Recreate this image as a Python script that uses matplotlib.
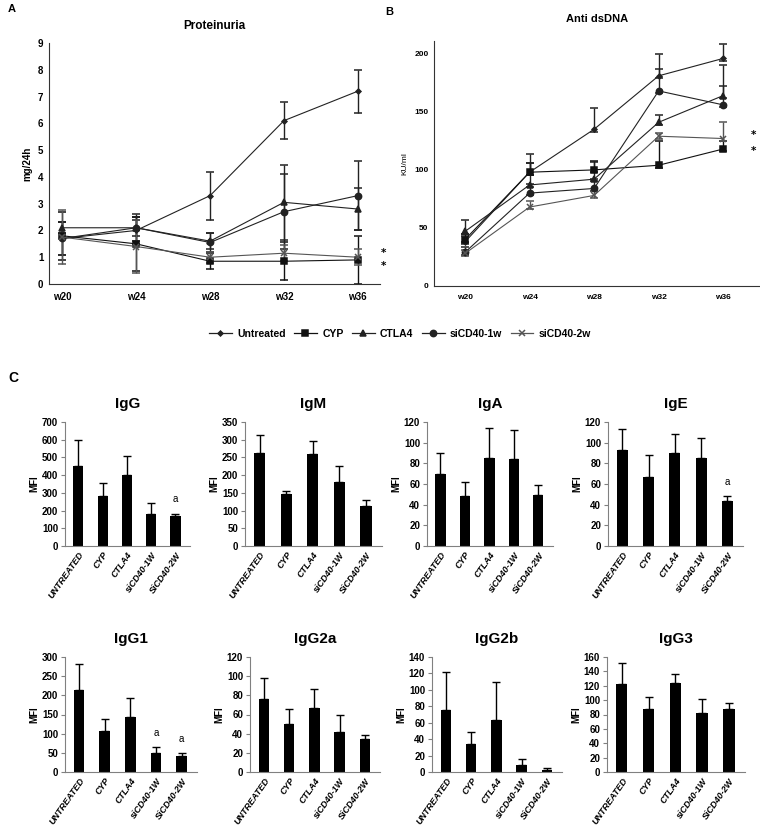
import matplotlib
matplotlib.use("Agg")
import matplotlib.pyplot as plt
import numpy as np

W, H = 760, 835

weeks = ["w20", "w24", "w28", "w32", "w36"]
groups = ["Untreated", "CYP", "CTLA4", "siCD40-1w", "siCD40-2w"]

# panel A - proteinuria (mg/24h)
prot = {
    "Untreated": [1.7, 2.0, 3.3, 6.1, 7.2],
    "CYP": [1.8, 1.5, 0.85, 0.85, 0.9],
    "CTLA4": [2.1, 2.1, 1.6, 3.05, 2.8],
    "siCD40-1w": [1.7, 2.1, 1.55, 2.7, 3.3],
    "siCD40-2w": [1.75, 1.4, 1.0, 1.15, 1.0],
}
prot_err = {
    "Untreated": [0.6, 0.5, 0.9, 0.7, 0.8],
    "CYP": [0.9, 1.0, 0.3, 0.7, 0.9],
    "CTLA4": [0.2, 0.3, 0.3, 1.4, 0.8],
    "siCD40-1w": [0.6, 0.5, 0.35, 1.4, 1.3],
    "siCD40-2w": [1.0, 1.0, 0.2, 0.3, 0.3],
}

# panel B - anti dsDNA (KU/ml), upper error only
dsdna = {
    "Untreated": [38, 98, 135, 181, 196],
    "CYP": [40, 98, 100, 104, 118],
    "CTLA4": [47, 87, 92, 141, 164],
    "siCD40-1w": [29, 80, 84, 168, 156],
    "siCD40-2w": [28, 68, 78, 129, 127],
}
dsdna_err = {
    "Untreated": [5, 16, 18, 19, 12],
    "CYP": [5, 8, 8, 21, 7],
    "CTLA4": [10, 19, 15, 6, 8],
    "siCD40-1w": [5, 8, 8, 19, 34],
    "siCD40-2w": [3, 5, 4, 3, 14],
}

# panel C - MFI bars
bar_cats = ["UNTREATED", "CYP", "CTLA4", "siCD40-1W", "SiCD40-2W"]
ig_names = ["IgG", "IgM", "IgA", "IgE", "IgG1", "IgG2a", "IgG2b", "IgG3"]
ig_vals = {
    "IgG": [450, 280, 400, 183, 170],
    "IgM": [262, 147, 260, 182, 112],
    "IgA": [70, 48, 85, 84, 49],
    "IgE": [93, 67, 90, 85, 44],
    "IgG1": [213, 108, 143, 49, 43],
    "IgG2a": [76, 50, 67, 42, 34],
    "IgG2b": [75, 34, 63, 8, 2],
    "IgG3": [123, 88, 124, 82, 88],
}
ig_err = {
    "IgG": [150, 78, 110, 60, 12],
    "IgM": [50, 8, 35, 45, 18],
    "IgA": [20, 14, 29, 28, 10],
    "IgE": [20, 21, 18, 20, 4],
    "IgG1": [68, 30, 50, 16, 6],
    "IgG2a": [22, 16, 20, 17, 5],
    "IgG2b": [47, 15, 47, 8, 3],
    "IgG3": [28, 16, 13, 20, 8],
}
ig_ymax = {"IgG": 700, "IgM": 350, "IgA": 120, "IgE": 120,
           "IgG1": 300, "IgG2a": 120, "IgG2b": 140, "IgG3": 160}
ig_step = {"IgG": 100, "IgM": 50, "IgA": 20, "IgE": 20,
           "IgG1": 50, "IgG2a": 20, "IgG2b": 20, "IgG3": 20}
ig_marks = {"IgG": [4], "IgE": [4], "IgG1": [3, 4]}

markers = {"Untreated": ("D", 2.5), "CYP": ("s", 4), "CTLA4": ("^", 4),
           "siCD40-1w": ("o", 4.5), "siCD40-2w": ("x", 4)}
colors = {"Untreated": "#222222", "CYP": "#111111", "CTLA4": "#222222",
          "siCD40-1w": "#222222", "siCD40-2w": "#555555"}

ARIAL = ["Liberation Sans", "DejaVu Sans"]
CALIBRI = ["Liberation Sans Narrow", "Liberation Sans", "DejaVu Sans"]

fig = plt.figure(figsize=(W / 100, H / 100), dpi=100)


def px_axes(l, t, r, b):
    return fig.add_axes([l / W, 1 - b / H, (r - l) / W, (b - t) / H])


def style_line_ax(ax):
    for s in ["top", "right"]:
        ax.spines[s].set_visible(False)
    ax.spines["left"].set_color("#333333")
    ax.spines["bottom"].set_color("#333333")
    ax.tick_params(axis="x", length=0, pad=6)
    ax.tick_params(axis="y", length=0, pad=4)
    ax.set_xticks(range(len(weeks)))
    ax.set_xticklabels(weeks, fontsize=7, fontweight="bold", family=ARIAL)
    for t in ax.get_yticklabels():
        t.set_fontsize(7)
        t.set_fontweight("bold")
        t.set_family(ARIAL)


x = np.arange(len(weeks))

# ---- A
axA = px_axes(49, 43, 380, 284)
for g in groups:
    m, ms = markers[g]
    axA.errorbar(x, prot[g], yerr=prot_err[g], color=colors[g], marker=m, ms=ms,
                 lw=0.8, elinewidth=1.0, capsize=3, capthick=1.0, mew=1.1)
axA.set_xlim(-0.18, 4.3)
axA.set_ylim(0, 9)
axA.set_yticks(range(0, 10))
style_line_ax(axA)
axA.set_ylabel("mg/24h", fontsize=7, fontweight="bold", family=ARIAL, labelpad=4)
axA.set_title("Proteinuria", fontsize=8.5, fontweight="bold", family=ARIAL, pad=10)
for yv in [1.15, 0.68]:
    axA.text(4.31, yv, "*", fontsize=7.5, fontweight="bold", ha="left", va="center",
             clip_on=False)
fig.text(8 / W, 1 - 9 / H, "A", fontsize=8, fontweight="bold", family=ARIAL, va="center")

# ---- B
axB = px_axes(434, 41, 760, 286)
for g in groups:
    m, ms = markers[g]
    lo = [min(2, e) for e in dsdna_err[g]]
    axB.errorbar(x, dsdna[g], yerr=[lo, dsdna_err[g]], color=colors[g], marker=m, ms=ms,
                 lw=0.8, elinewidth=1.0, capsize=3, capthick=1.0, mew=1.1)
axB.set_xlim(-0.48, 4.57)
axB.set_ylim(0, 211)
axB.set_yticks([0, 50, 100, 150, 200])
style_line_ax(axB)
for t in axB.get_yticklabels():
    t.set_fontsize(6)
for t in axB.get_xticklabels():
    t.set_fontsize(6)
axB.set_ylabel("KU/ml", fontsize=6, family=ARIAL, labelpad=4)
axB.set_title("Anti dsDNA", fontsize=8, fontweight="bold", family=ARIAL, pad=14)
for yv in [130, 116]:
    axB.text(4.47, yv, "*", fontsize=7.5, fontweight="bold", ha="center", va="center")
fig.text(385 / W, 1 - 12 / H, "B", fontsize=8, fontweight="bold", family=ARIAL, va="center")

# ---- legend
handles = []
for g in groups:
    m, ms = markers[g]
    h, = axA.plot([], [], color=colors[g], marker=m, ms=ms, lw=0.9, mew=1.1)
    handles.append(h)
fig.legend(handles, groups, loc="center", bbox_to_anchor=(400 / W, 1 - 334 / H),
           ncol=5, frameon=False, handlelength=2.2, handletextpad=0.5,
           columnspacing=0.8, prop={"family": ARIAL, "weight": "bold", "size": 7.5})

# ---- C
fig.text(8 / W, 1 - 378 / H, "C", fontsize=10, fontweight="bold", family=CALIBRI, va="center")
boxes = [
    (65, 422, 190, 546), (245, 422, 382, 546), (427, 422, 553, 546), (608, 422, 743, 546),
    (65, 657, 197, 772), (250, 657, 380, 772), (432, 657, 562, 772), (607, 657, 745, 772),
]
xb = np.arange(len(bar_cats))
for name, box in zip(ig_names, boxes):
    ax = px_axes(*box)
    vals = ig_vals[name]
    errs = ig_err[name]
    ax.bar(xb, vals, width=0.42, color="black", zorder=2)
    ax.errorbar(xb, vals, yerr=[np.zeros(len(vals)), errs], fmt="none", ecolor="black",
                elinewidth=1.0, capsize=3, capthick=1.0, zorder=1)
    ax.set_xlim(-0.55, 4.6)
    ax.set_ylim(0, ig_ymax[name])
    ax.set_yticks(np.arange(0, ig_ymax[name] + 1, ig_step[name]))
    for s in ["top", "right"]:
        ax.spines[s].set_visible(False)
    ax.spines["left"].set_color("#808080")
    ax.spines["bottom"].set_color("#808080")
    ax.tick_params(axis="y", length=3, color="#808080", pad=2)
    ax.tick_params(axis="x", length=0, pad=3)
    ax.set_xticks(xb)
    ax.set_xticklabels(bar_cats, rotation=55, ha="right", rotation_mode="anchor",
                       fontsize=6.5, fontweight="bold", fontstyle="italic", family=CALIBRI)
    for t in ax.get_yticklabels():
        t.set_fontsize(7)
        t.set_fontweight("bold")
        t.set_family(CALIBRI)
    ax.set_ylabel("MFI", fontsize=7, fontweight="bold", family=CALIBRI, labelpad=2)
    ax.set_title(name, fontsize=11, fontweight="bold", family=CALIBRI, pad=10)
    for i in ig_marks.get(name, []):
        ax.text(i, vals[i] + errs[i] + ig_ymax[name] * 0.12, "a", fontsize=7,
                ha="center", va="center", family=CALIBRI)

fig.savefig("out.png", dpi=100)
